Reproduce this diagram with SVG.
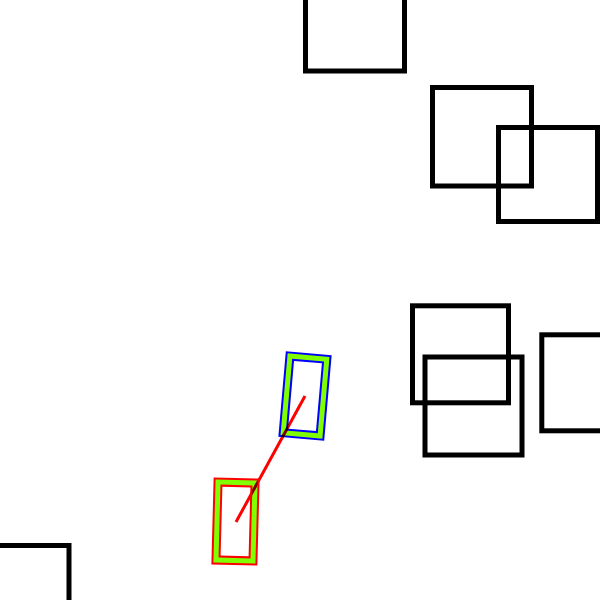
<svg xmlns="http://www.w3.org/2000/svg" width="600" height="600" viewBox="0 0 600 600">
  <style>
    .box { fill: none; stroke: #000; stroke-width: 5; }
    .outerB { fill: none; stroke: #0000ff; stroke-width: 9; }
    .outerR { fill: none; stroke: #ff0000; stroke-width: 9; }
    .inner { fill: none; stroke: #7fff00; stroke-width: 5; }
    .link { stroke: #ff0000; stroke-width: 3; fill: none; mix-blend-mode: multiply; }
  </style>
  <rect width="600" height="600" fill="#fff"/>
  <g id="box1"><rect class="box" x="305.5" y="-29" width="99" height="100"/></g>
  <g id="box2"><rect class="box" x="432.5" y="87.5" width="99" height="98.5"/></g>
  <g id="box3"><rect class="box" x="498.5" y="127.5" width="99" height="94"/></g>
  <g id="box4"><rect class="box" x="412.5" y="305.8" width="96" height="97"/></g>
  <g id="box5"><rect class="box" x="425" y="357" width="97" height="98"/></g>
  <g id="box6"><rect class="box" x="541.8" y="334.8" width="100" height="96"/></g>
  <g id="box7"><rect class="box" x="-31" y="545.5" width="100" height="100"/></g>
  <g id="nodeA" transform="translate(305 396) rotate(5)">
    <rect class="outerB" x="-18.5" y="-38.5" width="37" height="77"/>
    <rect class="inner" x="-18.5" y="-38.5" width="37" height="77"/>
  </g>
  <g id="nodeB" transform="translate(235.5 521.5) rotate(1.5)">
    <rect class="outerR" x="-18.5" y="-39" width="37" height="78"/>
    <rect class="inner" x="-18.5" y="-39" width="37" height="78"/>
  </g>
  <g id="connectors">
    <line class="link" x1="305" y1="396" x2="236" y2="522"/>
  </g>
</svg>
